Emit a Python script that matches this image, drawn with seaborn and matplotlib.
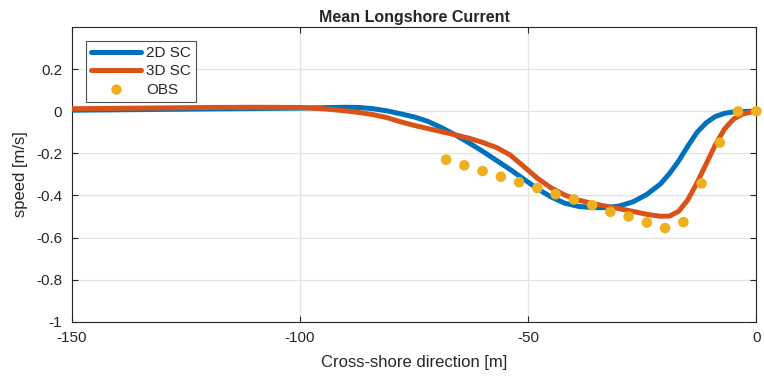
import numpy as np
import pandas as pd
import matplotlib
matplotlib.use("Agg")
import matplotlib.pyplot as plt
import seaborn as sns
from matplotlib.lines import Line2D

# ---- data ----
x_model = [-150, -140, -130, -120, -110, -100, -95, -90, -87, -84, -81, -78, -75, -72,
           -69, -66, -63, -60, -57, -54, -51, -48, -45, -42, -39, -36, -33, -30,
           -27, -24, -21, -19, -17, -15, -13, -11, -9, -7, -5, -3, -1, 0]
sc2d = [0.005, 0.007, 0.009, 0.011, 0.013, 0.015, 0.017, 0.019, 0.018, 0.012, 0.002,
        -0.012, -0.027, -0.048, -0.078, -0.112, -0.15, -0.19, -0.233, -0.276, -0.322,
        -0.368, -0.407, -0.437, -0.452, -0.458, -0.458, -0.45, -0.43, -0.395, -0.345,
        -0.295, -0.235, -0.165, -0.1, -0.055, -0.025, -0.01, -0.003, -0.001, 0.0, 0.0]
sc3d = [0.012, 0.014, 0.016, 0.018, 0.019, 0.018, 0.012, 0.002, -0.006, -0.016, -0.03,
        -0.05, -0.067, -0.082, -0.097, -0.112, -0.128, -0.148, -0.172, -0.207, -0.262,
        -0.318, -0.364, -0.398, -0.422, -0.438, -0.451, -0.463, -0.476, -0.49, -0.499,
        -0.498, -0.475, -0.42, -0.34, -0.25, -0.16, -0.085, -0.037, -0.013, -0.003, 0.0]
x_obs = [-68, -64, -60, -56, -52, -48, -44, -40, -36, -32, -28, -24, -20, -16, -12, -8, -4, 0]
obs = [-0.23, -0.257, -0.284, -0.311, -0.337, -0.365, -0.394, -0.419, -0.446, -0.478,
       -0.5, -0.529, -0.555, -0.527, -0.343, -0.149, -0.001, 0.0]

xticks = [-150, -100, -50, 0]
yticks = [-1, -0.8, -0.6, -0.4, -0.2, 0, 0.2]
ytick_labels = ["-1", "-0.8", "-0.6", "-0.4", "-0.2", "0", "0.2"]

df_model = pd.DataFrame({"x": x_model + x_model,
                         "speed": sc2d + sc3d,
                         "series": ["2D SC"] * len(x_model) + ["3D SC"] * len(x_model)})
df_obs = pd.DataFrame({"x": x_obs, "speed": obs})

sns.set_theme(style="white")
plt.rcParams["font.family"] = ["Liberation Sans", "DejaVu Sans"]

fig = plt.figure(figsize=(7.64, 3.76), dpi=100)
ax = fig.add_axes([0.0942, 0.1444, 0.8958, 0.783])

sns.lineplot(data=df_model, x="x", y="speed", hue="series",
             palette={"2D SC": "#0072BD", "3D SC": "#D95319"},
             linewidth=3.6, ax=ax, sort=True, estimator=None, legend=False, zorder=3)
sns.scatterplot(data=df_obs, x="x", y="speed", color="#EDB120", s=58,
                edgecolor="none", ax=ax, zorder=4, clip_on=False)

ax.set_xlim(-150, 0)
ax.set_ylim(-1, 0.399)
ax.set_xticks(xticks)
ax.set_xticklabels([str(t) for t in xticks])
ax.set_yticks(yticks)
ax.set_yticklabels(ytick_labels)
ax.grid(True, color="#e3e3e3", linewidth=0.9)
ax.set_axisbelow(True)
for s in ax.spines.values():
    s.set_color("#262626")
    s.set_linewidth(0.8)
    s.set_visible(True)
ax.tick_params(direction="in", length=4, width=0.8, color="#262626",
               labelsize=11, labelcolor="#262626", top=True, right=True,
               bottom=True, left=True)
ax.tick_params(axis="x", pad=7)
ax.tick_params(axis="y", pad=7)

ax.set_xlabel("Cross-shore direction [m]", fontsize=12, color="#262626", labelpad=7)
ax.set_ylabel("speed [m/s]", fontsize=12, color="#262626", labelpad=6)
ax.set_title("Mean Longshore Current", fontsize=11.5, fontweight="bold", pad=4)

handles = [Line2D([], [], color="#0072BD", lw=3.6),
           Line2D([], [], color="#D95319", lw=3.6),
           Line2D([], [], color="#EDB120", marker="o", ls="none", markersize=7.5,
                  markeredgecolor="none")]
leg = ax.legend(handles, ["2D SC", "3D SC", "OBS"], loc="upper left",
                bbox_to_anchor=(0.02, 0.955), fontsize=11, frameon=True,
                fancybox=False, handlelength=3.3, handletextpad=0.3,
                borderpad=0.35, labelspacing=0.3, borderaxespad=0)
leg.get_frame().set_edgecolor("#262626")
leg.get_frame().set_linewidth(0.8)

fig.savefig("out.png", dpi=100)
